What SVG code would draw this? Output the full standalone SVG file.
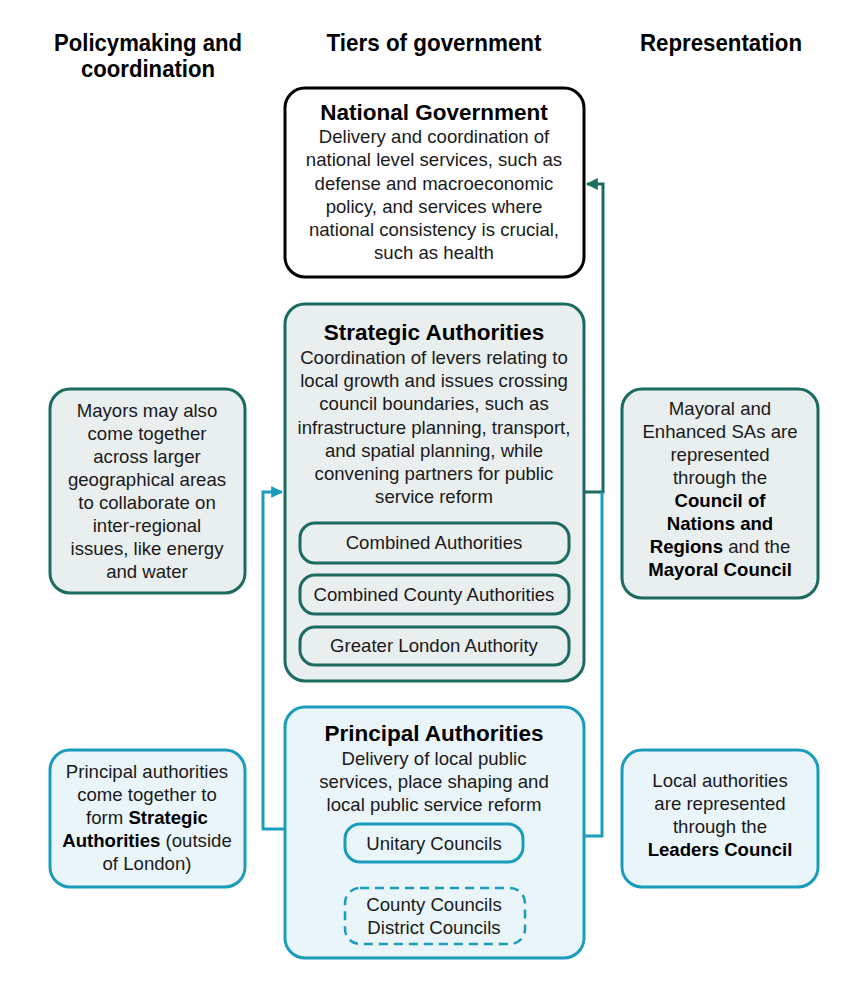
<svg xmlns="http://www.w3.org/2000/svg" width="859" height="985" viewBox="0 0 859 985">
<defs>
<style>
.hd{font-family:"Liberation Sans",Arial,sans-serif;font-weight:bold;font-size:23px;fill:#000;text-anchor:middle}
.t{font-family:"Liberation Sans",Arial,sans-serif;font-size:18.6px;fill:#1a1a1a;text-anchor:middle}
.ti{font-family:"Liberation Sans",Arial,sans-serif;font-size:22.5px;font-weight:bold;fill:#000;text-anchor:middle}
.b{font-weight:bold;fill:#000}
.ng{fill:#fff;stroke:#000;stroke-width:3}
.sa{fill:#e9eeef;stroke:#1b6b60;stroke-width:3}
.pa{fill:#eaf5f9;stroke:#1a9cbd;stroke-width:3}
.g{fill:none;stroke:#1b6b60;stroke-width:3}
.c{fill:none;stroke:#1a9cbd;stroke-width:3}
.cd{fill:none;stroke:#1a9cbd;stroke-width:2.5;stroke-dasharray:9 6}
</style>
<marker id="ag" viewBox="0 0 10 10" refX="9" refY="5" markerWidth="4" markerHeight="4" orient="auto" markerUnits="strokeWidth"><path d="M0,0 L10,5 L0,10 z" fill="#1b6b60"/></marker>
<marker id="ac" viewBox="0 0 10 10" refX="9" refY="5" markerWidth="4" markerHeight="4" orient="auto" markerUnits="strokeWidth"><path d="M0,0 L10,5 L0,10 z" fill="#1a9cbd"/></marker>
</defs>

<g id="headers">
<text class="hd" x="148" y="51" textLength="188" lengthAdjust="spacingAndGlyphs">Policymaking and</text>
<text class="hd" x="148" y="77" textLength="134" lengthAdjust="spacingAndGlyphs">coordination</text>
<text class="hd" x="434" y="51" textLength="215" lengthAdjust="spacingAndGlyphs">Tiers of government</text>
<text class="hd" x="721" y="51" textLength="162" lengthAdjust="spacingAndGlyphs">Representation</text>
</g>

<g id="connectors">
<path class="g" d="M584,492 H603 V184 H587" marker-end="url(#ag)"/>
<path class="c" d="M584,836 H602 V492"/>
<path class="c" d="M285,829 H263 V492 H282" marker-end="url(#ac)"/>
<path class="c" d="M345,914 H325 V843 H342" marker-end="url(#ac)"/>
</g>

<g id="national">
<rect class="ng" x="285" y="88" width="299" height="189" rx="20"/>
<text class="ti" x="434" y="120">National Government</text>
<text class="t" x="434" y="143">Delivery and coordination of</text>
<text class="t" x="434" y="166">national level services, such as</text>
<text class="t" x="434" y="190">defense and macroeconomic</text>
<text class="t" x="434" y="213">policy, and services where</text>
<text class="t" x="434" y="236">national consistency is crucial,</text>
<text class="t" x="434" y="259">such as health</text>
</g>

<g id="strategic">
<rect class="sa" x="285" y="304" width="299" height="377" rx="20"/>
<text class="ti" x="434" y="340">Strategic Authorities</text>
<text class="t" x="434" y="364">Coordination of levers relating to</text>
<text class="t" x="434" y="387">local growth and issues crossing</text>
<text class="t" x="434" y="410">council boundaries, such as</text>
<text class="t" x="434" y="434">infrastructure planning, transport,</text>
<text class="t" x="434" y="457">and spatial planning, while</text>
<text class="t" x="434" y="480">convening partners for public</text>
<text class="t" x="434" y="503">service reform</text>
</g>

<g id="combined">
<rect class="sa" x="300" y="523" width="269" height="40" rx="15"/>
<text class="t" x="434" y="549">Combined Authorities</text>
</g>
<g id="combinedcounty">
<rect class="sa" x="300" y="575" width="269" height="39" rx="15"/>
<text class="t" x="434" y="601">Combined County Authorities</text>
</g>
<g id="gla">
<rect class="sa" x="300" y="627" width="269" height="38" rx="15"/>
<text class="t" x="434" y="652">Greater London Authority</text>
</g>

<g id="principal">
<rect class="pa" x="285" y="707" width="299" height="251" rx="20"/>
<text class="ti" x="434" y="741">Principal Authorities</text>
<text class="t" x="434" y="765">Delivery of local public</text>
<text class="t" x="434" y="788">services, place shaping and</text>
<text class="t" x="434" y="811">local public service reform</text>
</g>

<g id="unitary">
<rect class="pa" x="345" y="824" width="178" height="38" rx="15"/>
<text class="t" x="434" y="850">Unitary Councils</text>
</g>
<g id="countydistrict">
<rect class="cd" x="345" y="888" width="180" height="56" rx="15"/>
<text class="t" x="434" y="911">County Councils</text>
<text class="t" x="434" y="934">District Councils</text>
</g>

<g id="mayors">
<rect class="sa" x="50" y="389" width="195" height="204" rx="20"/>
<text class="t" x="147" y="417">Mayors may also</text>
<text class="t" x="147" y="440">come together</text>
<text class="t" x="147" y="463">across larger</text>
<text class="t" x="147" y="486">geographical areas</text>
<text class="t" x="147" y="509">to collaborate on</text>
<text class="t" x="147" y="532">inter-regional</text>
<text class="t" x="147" y="555">issues, like energy</text>
<text class="t" x="147" y="578">and water</text>
</g>

<g id="mayoralrep">
<rect class="sa" x="622" y="389" width="196" height="209" rx="20"/>
<text class="t" x="720" y="415">Mayoral and</text>
<text class="t" x="720" y="438">Enhanced SAs are</text>
<text class="t" x="720" y="461">represented</text>
<text class="t" x="720" y="484">through the</text>
<text class="t b" x="720" y="507">Council of</text>
<text class="t b" x="720" y="530">Nations and</text>
<text class="t" x="720" y="553"><tspan class="b">Regions</tspan> and the</text>
<text class="t b" x="720" y="576">Mayoral Council</text>
</g>

<g id="paform">
<rect class="pa" x="50" y="750" width="195" height="137" rx="20"/>
<text class="t" x="147" y="778">Principal authorities</text>
<text class="t" x="147" y="801">come together to</text>
<text class="t" x="147" y="824">form <tspan class="b">Strategic</tspan></text>
<text class="t" x="147" y="847"><tspan class="b">Authorities</tspan> (outside</text>
<text class="t" x="147" y="870">of London)</text>
</g>

<g id="localrep">
<rect class="pa" x="622" y="750" width="196" height="137" rx="20"/>
<text class="t" x="720" y="787">Local authorities</text>
<text class="t" x="720" y="810">are represented</text>
<text class="t" x="720" y="833">through the</text>
<text class="t b" x="720" y="856">Leaders Council</text>
</g>
</svg>
